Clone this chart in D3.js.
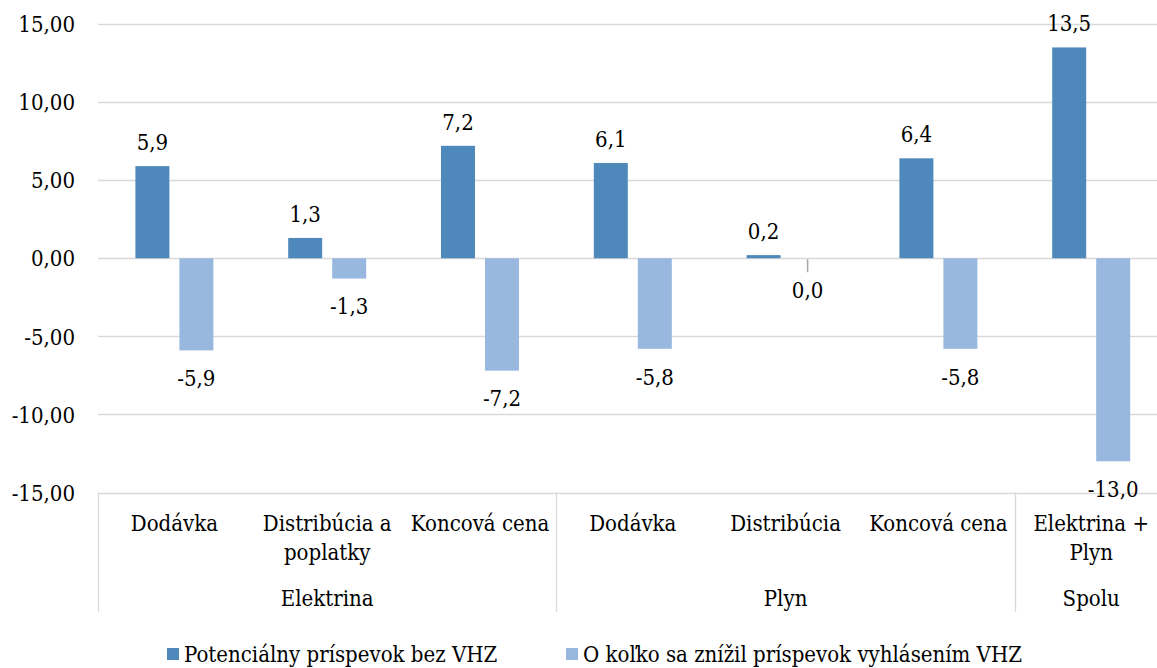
<!DOCTYPE html>
<html>
<head>
<meta charset="utf-8">
<script src="https://cdn.jsdelivr.net/npm/d3@7"></script>
<style>
  body { margin: 0; background: #fff; }
  svg text { font-family: "DejaVu Serif Condensed", "DejaVu Serif", serif; font-stretch: condensed; fill: #000; }
</style>
</head>
<body>
<div id="viz"></div>
<script>
// data
var groups = ["Elektrina", "Plyn", "Spolu"];
var groupOf = ["Elektrina", "Elektrina", "Elektrina", "Plyn", "Plyn", "Plyn", "Spolu"];
var categories = [["Dodávka"], ["Distribúcia a", "poplatky"], ["Koncová cena"], ["Dodávka"], ["Distribúcia"], ["Koncová cena"], ["Elektrina +", "Plyn"]];
var seriesNames = ["Potenciálny príspevok bez VHZ", "O koľko sa znížil príspevok vyhlásením VHZ"];
var potential = [5.9, 1.3, 7.2, 6.1, 0.2, 6.4, 13.5];
var reduction = [-5.9, -1.3, -7.2, -5.8, 0.0, -5.8, -13.0];
var yTicks = [-15, -10, -5, 0, 5, 10, 15];

var colors = ["#4f88bb", "#98b8df"];
var width = 1157, height = 668;
var left = 98, step = 152.8;
var fs = "22px";

var svg = d3.select("#viz").append("svg").attr("width", width).attr("height", height);

var sk = d3.formatLocale({decimal: ",", thousands: " ", grouping: [3], currency: ["", " €"], minus: "-"});
var fmtTick = sk.format(".2f"), fmtVal = sk.format(".1f");

var idx = d3.range(categories.length);
var x = d3.scaleBand().domain(idx).range([left, left + step * idx.length]);
var x1 = d3.scaleBand().domain([0, 1]).range([0, x.bandwidth()]).paddingInner(10 / 44).paddingOuter(0.85);
var y = d3.scaleLinear().domain([-15, 15]).range([492.5, 24]);

// gridlines
svg.append("g").selectAll("line")
    .data(yTicks)
  .enter().append("line")
    .attr("x1", left).attr("x2", width)
    .attr("y1", function(d) { return Math.round(y(d)) + 0.5; })
    .attr("y2", function(d) { return Math.round(y(d)) + 0.5; })
    .attr("stroke", "#d9d9d9").attr("stroke-width", 1.3);

// y axis labels
var yAxis = d3.axisLeft(y).tickValues(yTicks).tickFormat(fmtTick).tickSize(0).tickPadding(23);
var ya = svg.append("g").attr("transform", "translate(" + left + ",0)").call(yAxis);
ya.select(".domain").remove();
ya.selectAll("text").style("font-size", fs).attr("dy", "0.35em");

// group separators
var bounds = [0, 3, 6, 7];
svg.append("g").selectAll("line")
    .data(bounds.slice(0, 3))
  .enter().append("line")
    .attr("x1", function(d) { return Math.round(x(d)) + 0.5; })
    .attr("x2", function(d) { return Math.round(x(d)) + 0.5; })
    .attr("y1", y(-15)).attr("y2", 612)
    .attr("stroke", "#d9d9d9").attr("stroke-width", 1.3);

// bars
var series = [potential, reduction];
series.forEach(function(vals, s) {
  var g = svg.append("g");
  g.selectAll("rect")
      .data(idx)
    .enter().append("rect")
      .attr("x", function(i) { return x(i) + x1(s); })
      .attr("width", x1.bandwidth())
      .attr("y", function(i) { return y(Math.max(0, vals[i])); })
      .attr("height", function(i) { return Math.abs(y(vals[i]) - y(0)); })
      .attr("fill", colors[s]);

  g.selectAll("text")
      .data(idx)
    .enter().append("text")
      .attr("x", function(i) { return x(i) + x1(s) + x1.bandwidth() / 2; })
      .attr("y", function(i) {
        return vals[i] > 0 ? y(vals[i]) - 24 : y(vals[i]) + (vals[i] == 0 ? 32 : 28);
      })
      .attr("dy", "0.35em")
      .attr("text-anchor", "middle")
      .style("font-size", fs)
      .text(function(i) { return fmtVal(vals[i]); });

  // leader for zero value
  g.selectAll("line")
      .data(idx.filter(function(i) { return vals[i] == 0; }))
    .enter().append("line")
      .attr("x1", function(i) { return x(i) + x1(s) + x1.bandwidth() / 2; })
      .attr("x2", function(i) { return x(i) + x1(s) + x1.bandwidth() / 2; })
      .attr("y1", y(0) + 1).attr("y2", y(0) + 14)
      .attr("stroke", "#a6a6a6").attr("stroke-width", 1.5);
});

// category labels
svg.append("g").selectAll("text")
    .data(idx)
  .enter().append("text")
    .attr("x", function(i) { return x(i) + x.bandwidth() / 2; })
    .attr("y", 523)
    .attr("text-anchor", "middle")
    .style("font-size", fs)
    .each(function(i) {
      var t = d3.select(this);
      categories[i].forEach(function(line, k) {
        t.append("tspan").attr("x", x(i) + x.bandwidth() / 2).attr("dy", k == 0 ? "0.35em" : "1.32em").text(line);
      });
    });

// group labels
svg.append("g").selectAll("text")
    .data(groups)
  .enter().append("text")
    .attr("x", function(g) {
      var first = groupOf.indexOf(g), last = groupOf.lastIndexOf(g);
      return (x(first) + x(last) + x.bandwidth()) / 2;
    })
    .attr("y", 598).attr("dy", "0.35em")
    .attr("text-anchor", "middle")
    .style("font-size", fs)
    .text(function(g) { return g; });

// legend
var legendX = [167, 566];
var lg = svg.append("g").selectAll("g")
    .data(seriesNames)
  .enter().append("g")
    .attr("transform", function(d, i) { return "translate(" + legendX[i] + ",654)"; });
lg.append("rect").attr("x", 0).attr("y", -6).attr("width", 12).attr("height", 12)
    .attr("fill", function(d, i) { return colors[i]; });
lg.append("text").attr("x", 17).attr("dy", "0.35em").style("font-size", fs)
    .text(function(d) { return d; });
</script>
</body>
</html>
